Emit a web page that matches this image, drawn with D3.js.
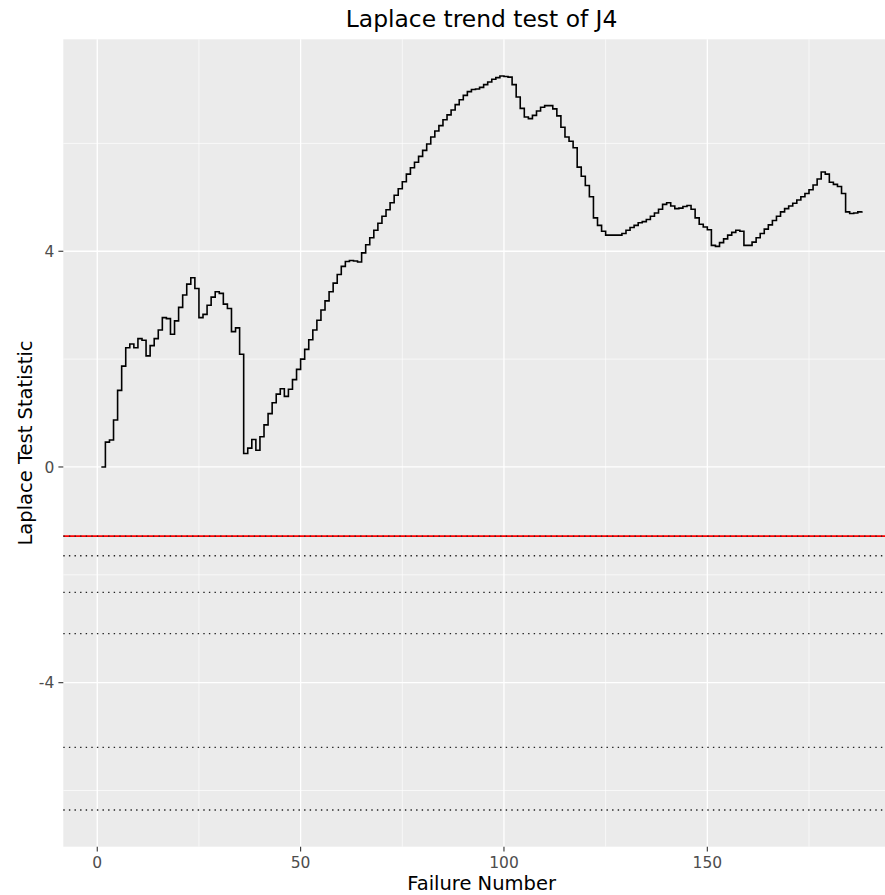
<!DOCTYPE html>
<html>
<head>
<meta charset="utf-8">
<script src="https://cdnjs.cloudflare.com/ajax/libs/d3/7.8.5/d3.min.js"></script>
<style>
body { margin: 0; background: #fff; }
svg text { font-family: "DejaVu Sans", sans-serif; }
</style>
</head>
<body>
<svg id="grafico" width="885" height="895"></svg>
<script>
// estadistico de Laplace por numero de fallo (1..188)
var estadistico = [
    0, 0.46, 0.50, 0.87, 1.42, 1.87, 2.21, 2.28, 2.21, 2.38,
    2.35, 2.06, 2.25, 2.38, 2.54, 2.77, 2.75, 2.46, 2.71, 2.96,
    3.19, 3.39, 3.51, 3.31, 2.77, 2.83, 3.00, 3.15, 3.25, 3.22,
    3.02, 2.94, 2.51, 2.58, 2.09, 0.25, 0.35, 0.51, 0.31, 0.56,
    0.78, 0.99, 1.19, 1.35, 1.45, 1.31, 1.44, 1.62, 1.81, 2.00,
    2.18, 2.36, 2.54, 2.72, 2.91, 3.08, 3.25, 3.41, 3.57, 3.72,
    3.81, 3.83, 3.82, 3.80, 3.97, 4.12, 4.25, 4.39, 4.52, 4.65,
    4.77, 4.90, 5.04, 5.16, 5.29, 5.43, 5.55, 5.65, 5.76, 5.87,
    5.99, 6.12, 6.23, 6.33, 6.44, 6.53, 6.62, 6.72, 6.81, 6.89,
    6.96, 7.00, 7.01, 7.04, 7.09, 7.14, 7.19, 7.22, 7.25, 7.24,
    7.23, 7.09, 6.86, 6.65, 6.49, 6.46, 6.52, 6.60, 6.67, 6.70,
    6.70, 6.64, 6.51, 6.30, 6.12, 6.04, 5.92, 5.56, 5.39, 5.22,
    5.01, 4.62, 4.48, 4.37, 4.30, 4.30, 4.30, 4.30, 4.33, 4.39,
    4.44, 4.48, 4.53, 4.55, 4.59, 4.65, 4.71, 4.78, 4.87, 4.90,
    4.84, 4.79, 4.80, 4.83, 4.85, 4.78, 4.62, 4.50, 4.45, 4.40,
    4.11, 4.09, 4.16, 4.23, 4.30, 4.35, 4.39, 4.37, 4.11, 4.11,
    4.17, 4.25, 4.33, 4.41, 4.49, 4.57, 4.65, 4.73, 4.79, 4.84,
    4.89, 4.95, 5.01, 5.07, 5.14, 5.23, 5.34, 5.47, 5.43, 5.28,
    5.24, 5.20, 5.07, 4.73, 4.70, 4.71, 4.73, 4.74
];
var lineaRoja = -1.2816;
var lineasPunteadas = [-1.2816, -1.645, -2.326, -3.09, -5.199, -6.361];
var ticksX = [0, 50, 100, 150];
var ticksXMenores = [25, 75, 125, 175];
var ticksY = [-4, 0, 4];
var ticksYMenores = [-6, -2, 2, 6];

var titulo = "Laplace trend test of J4";
var tituloX = "Failure Number";
var tituloY = "Laplace Test Statistic";

var puntos = estadistico.map(function (v, i) { return { fallo: i + 1, valor: v }; });

var panel = { left: 63.3, right: 899.9, top: 39.3, bottom: 846.7 };

function Expandir(extent) {
    var pad = (extent[1] - extent[0]) * 0.05;
    return [extent[0] - pad, extent[1] + pad];
}

var x = d3.scaleLinear()
    .domain(Expandir(d3.extent(puntos, function (d) { return d.fallo; })))
    .range([panel.left, panel.right]);

var y = d3.scaleLinear()
    .domain(Expandir(d3.extent(estadistico.concat(lineasPunteadas))))
    .range([panel.bottom, panel.top]);

var svg = d3.select("#grafico");

svg.append("rect")
    .attr("x", panel.left)
    .attr("y", panel.top)
    .attr("width", panel.right - panel.left)
    .attr("height", panel.bottom - panel.top)
    .attr("fill", "#ebebeb");

var grilla = svg.append("g").attr("stroke", "#fff");

grilla.selectAll(".menorX").data(ticksXMenores).enter().append("line")
    .attr("x1", function (d) { return x(d); })
    .attr("x2", function (d) { return x(d); })
    .attr("y1", panel.top).attr("y2", panel.bottom)
    .attr("stroke-width", 0.65);
grilla.selectAll(".menorY").data(ticksYMenores).enter().append("line")
    .attr("y1", function (d) { return y(d); })
    .attr("y2", function (d) { return y(d); })
    .attr("x1", panel.left).attr("x2", panel.right)
    .attr("stroke-width", 0.65);
grilla.selectAll(".mayorX").data(ticksX).enter().append("line")
    .attr("x1", function (d) { return x(d); })
    .attr("x2", function (d) { return x(d); })
    .attr("y1", panel.top).attr("y2", panel.bottom)
    .attr("stroke-width", 1.3);
grilla.selectAll(".mayorY").data(ticksY).enter().append("line")
    .attr("y1", function (d) { return y(d); })
    .attr("y2", function (d) { return y(d); })
    .attr("x1", panel.left).attr("x2", panel.right)
    .attr("stroke-width", 1.3);

svg.append("line")
    .attr("x1", panel.left).attr("x2", panel.right)
    .attr("y1", y(lineaRoja)).attr("y2", y(lineaRoja))
    .attr("stroke", "red")
    .attr("stroke-width", 1.9);

svg.selectAll(".punteada").data(lineasPunteadas).enter().append("line")
    .attr("x1", panel.left).attr("x2", panel.right)
    .attr("y1", function (d) { return y(d); })
    .attr("y2", function (d) { return y(d); })
    .attr("stroke", "#222")
    .attr("stroke-width", 1.4)
    .attr("stroke-dasharray", "1.4,4.2");

var linea = d3.line()
    .x(function (d) { return x(d.fallo); })
    .y(function (d) { return y(d.valor); })
    .curve(d3.curveStepAfter);

svg.append("path")
    .datum(puntos)
    .attr("d", linea)
    .attr("fill", "none")
    .attr("stroke", "#000")
    .attr("stroke-width", 1.6);

// ejes
var ejeX = svg.append("g");
ejeX.selectAll("line").data(ticksX).enter().append("line")
    .attr("x1", function (d) { return x(d); })
    .attr("x2", function (d) { return x(d); })
    .attr("y1", panel.bottom).attr("y2", panel.bottom + 4.9)
    .attr("stroke", "#333").attr("stroke-width", 1.1);
ejeX.selectAll("text").data(ticksX).enter().append("text")
    .attr("x", function (d) { return x(d); })
    .attr("y", 868)
    .attr("text-anchor", "middle")
    .attr("fill", "#4d4d4d")
    .style("font-size", "15.5px")
    .text(function (d) { return d; });

var ejeY = svg.append("g");
ejeY.selectAll("line").data(ticksY).enter().append("line")
    .attr("y1", function (d) { return y(d); })
    .attr("y2", function (d) { return y(d); })
    .attr("x1", panel.left - 4.9).attr("x2", panel.left)
    .attr("stroke", "#333").attr("stroke-width", 1.1);
ejeY.selectAll("text").data(ticksY).enter().append("text")
    .attr("x", panel.left - 9)
    .attr("y", function (d) { return y(d); })
    .attr("dy", "0.36em")
    .attr("text-anchor", "end")
    .attr("fill", "#4d4d4d")
    .style("font-size", "15.5px")
    .text(function (d) { return d; });

svg.append("text")
    .attr("x", (panel.left + panel.right) / 2)
    .attr("y", 27)
    .attr("text-anchor", "middle")
    .style("font-size", "23.4px")
    .text(titulo);

svg.append("text")
    .attr("x", (panel.left + panel.right) / 2)
    .attr("y", 890)
    .attr("text-anchor", "middle")
    .style("font-size", "19.5px")
    .text(tituloX);

svg.append("text")
    .attr("transform", "translate(32," + ((panel.top + panel.bottom) / 2) + ") rotate(-90)")
    .attr("text-anchor", "middle")
    .style("font-size", "19.5px")
    .text(tituloY);
</script>
</body>
</html>
